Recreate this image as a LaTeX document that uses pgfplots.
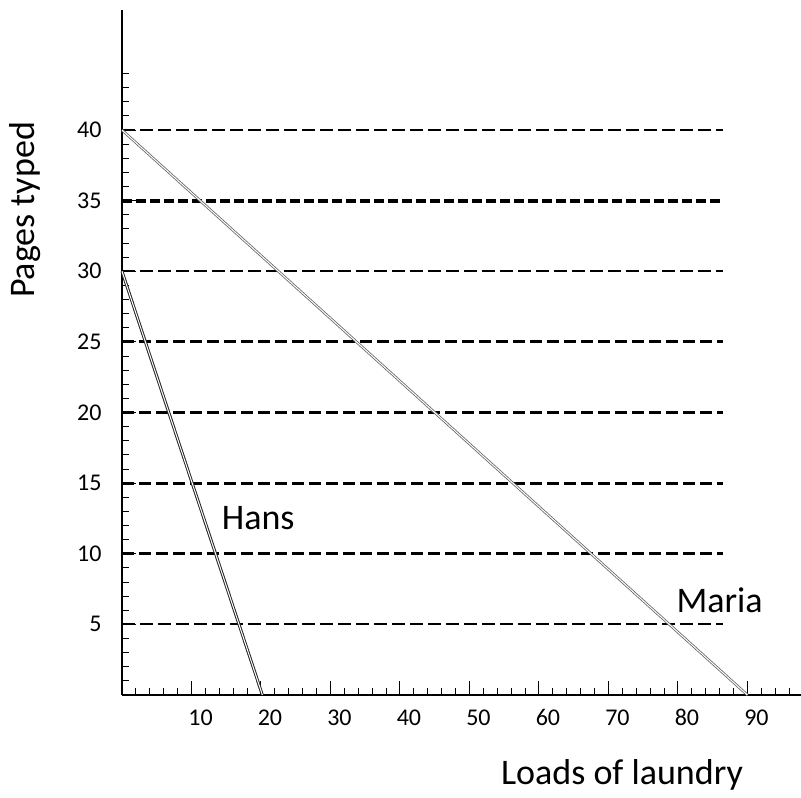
\documentclass[border=0pt]{standalone}
\usepackage{fontspec}
\setmainfont{Carlito}
\usepackage{pgfplots}
\pgfplotsset{compat=1.18}
\begin{document}
\begin{tikzpicture}
\useasboundingbox (-122pt,-103pt) rectangle (679pt,695pt);
\begin{axis}[
  at={(0pt,0pt)}, anchor=south west,
  scale only axis, width=679pt, height=685pt,
  xmin=0, xmax=97.7, ymin=0, ymax=48.5,
  axis x line=bottom, axis y line=left,
  axis line style={-, line width=1.4pt, black},
  xtick={10,20,...,90}, ytick={5,10,...,40},
  minor xtick={2,4,...,96}, minor ytick={1,2,...,44},
  tick align=inside, major tick length=14pt, minor tick length=7pt,
  tick style={black, line width=1pt},
  /pgf/number format/assume math mode=true,
  ticklabel style={font=\fontsize{24}{27}\selectfont},
  xticklabel style={yshift=-11pt, xshift=9pt},
  yticklabel style={xshift=-17pt},
  clip=false,
]
\addplot[black, line width=2pt, dash pattern=on 13pt off 5pt] coordinates {(0,40) (86.5,40)};
\addplot[black, line width=4pt, dash pattern=on 10pt off 4pt] coordinates {(0,35) (86.5,35)};
\addplot[black, line width=2pt, dash pattern=on 13pt off 5pt] coordinates {(0,30) (86.5,30)};
\addplot[black, line width=3pt, dash pattern=on 12pt off 5pt] coordinates {(0,25) (86.5,25)};
\addplot[black, line width=3pt, dash pattern=on 12pt off 5pt] coordinates {(0,20) (86.5,20)};
\addplot[black, line width=3pt, dash pattern=on 12pt off 5pt] coordinates {(0,15) (86.5,15)};
\addplot[black, line width=3pt, dash pattern=on 12pt off 5pt] coordinates {(0,10) (86.5,10)};
\addplot[black, line width=2pt, dash pattern=on 13pt off 5pt] coordinates {(0,5) (86.5,5)};
% Hans
\addplot[draw=black!85, line width=1pt, double=white, double distance=1pt] coordinates {(0,30) (20.2,0)};
% Maria
\addplot[draw=black!60, line width=0.8pt, double=white, double distance=1pt] coordinates {(0,40) (90,0)};
\node[font=\fontsize{36}{40}\selectfont] at (axis cs:19.6,12.5) {Hans};
\node[font=\fontsize{36}{40}\selectfont] at (axis cs:86,6.7) {Maria};
\end{axis}
\node[rotate=90, font=\fontsize{36}{40}\selectfont] at (-97pt,485pt) {Pages typed};
\node[font=\fontsize{36}{40}\selectfont] at (500pt,-80pt) {Loads of laundry};
\end{tikzpicture}
\end{document}
